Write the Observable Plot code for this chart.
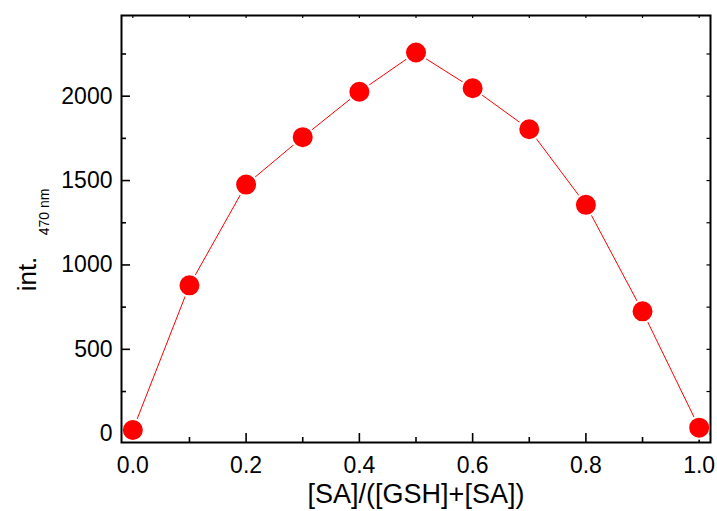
<!DOCTYPE html>
<html>
<head>
<meta charset="utf-8">
<script src="https://cdn.jsdelivr.net/npm/d3@7"></script>
<script src="https://cdn.jsdelivr.net/npm/@observablehq/plot@0.6"></script>
<style>
  html, body { margin: 0; padding: 0; background: #fff; }
  #chart { width: 717px; height: 511px; }
</style>
</head>
<body>
<div id="chart"></div>
<script>
// Data
const ratio = [0.0, 0.1, 0.2, 0.3, 0.4, 0.5, 0.6, 0.7, 0.8, 0.9, 1.0];
const intensity = [22, 879, 1476, 1757, 2026, 2259, 2047, 1804, 1356, 725, 36];

const xTicks = [0.0, 0.2, 0.4, 0.6, 0.8, 1.0];
const xMinorTicks = [0.1, 0.3, 0.5, 0.7, 0.9];
const xTopTicks = [0.0, 0.1, 0.2, 0.3, 0.4, 0.5, 0.6, 0.7, 0.8, 0.9, 1.0];
const yTicks = [0, 500, 1000, 1500, 2000];
const yMinorTicks = [250, 750, 1250, 1750, 2250];
const yRightTicks = [0, 250, 500, 750, 1000, 1250, 1500, 1750, 2000, 2250];

const xLabel = "[SA]/([GSH]+[SA])";
const yLabelMain = "int.";
const yLabelSub = "470 nm";

const data = ratio.map((x, i) => ({x, y: intensity[i]}));

const font = "'Liberation Sans', Arial, Helvetica, sans-serif";
const red = "#ff0000";

const W = 717, H = 511;
const mL = 121, mR = 7, mT = 15, mB = 69;
const innerW = W - mL - mR;
const innerH = H - mT - mB;
const id = d => d;

const chart = Plot.plot({
  width: W,
  height: H,
  marginLeft: mL,
  marginRight: mR,
  marginTop: mT,
  marginBottom: mB,
  style: {fontFamily: font, background: "#fff", color: "#000"},
  x: {domain: [-0.02, 1.02]},
  y: {domain: [-52, 2478]},
  marks: [
    // tick labels
    Plot.axisX({anchor: "bottom", ticks: xTicks, tickSize: 0, tickPadding: 14, fontSize: 23, tickFormat: d3.format(".1f"), label: null}),
    Plot.axisY({anchor: "left", ticks: yTicks, tickSize: 0, tickPadding: 9, fontSize: 23, tickFormat: d3.format("d"), label: null}),
    // inward ticks: bottom
    Plot.ruleX(xTicks, {x: id, insetTop: innerH - 9, stroke: "#000", strokeWidth: 1.6}),
    Plot.ruleX(xMinorTicks, {x: id, insetTop: innerH - 5, stroke: "#000", strokeWidth: 1.6}),
    // top
    Plot.ruleX(xTopTicks, {x: id, insetBottom: innerH - 3, stroke: "#000", strokeWidth: 1.2}),
    // left
    Plot.ruleY(yTicks, {y: id, insetRight: innerW - 9, stroke: "#000", strokeWidth: 1.6}),
    Plot.ruleY(yMinorTicks, {y: id, insetRight: innerW - 5, stroke: "#000", strokeWidth: 1.6}),
    // right
    Plot.ruleY(yRightTicks, {y: id, insetLeft: innerW - 3.5, stroke: "#000", strokeWidth: 1.2}),
    // data
    Plot.line(data, {x: "x", y: "y", stroke: red, strokeWidth: 1}),
    Plot.dot(data, {x: "x", y: "y", r: 11, fill: red, stroke: "#fff", strokeWidth: 2}),
    Plot.frame({stroke: "#000", strokeWidth: 2}),
    // axis labels
    Plot.text([xLabel], {frameAnchor: "bottom", text: id, dy: 52, fontSize: 27, lineAnchor: "middle", textAnchor: "middle", fill: "#000"}),
    Plot.text([yLabelMain], {frameAnchor: "left", text: id, rotate: -90, dx: -94, dy: 45, fontSize: 26, lineAnchor: "middle", textAnchor: "middle", fill: "#000"}),
    Plot.text([yLabelSub], {frameAnchor: "left", text: id, rotate: -90, dx: -77, dy: -17, fontSize: 14, lineAnchor: "middle", textAnchor: "middle", fill: "#000"})
  ]
});

document.getElementById("chart").appendChild(chart);
</script>
</body>
</html>
